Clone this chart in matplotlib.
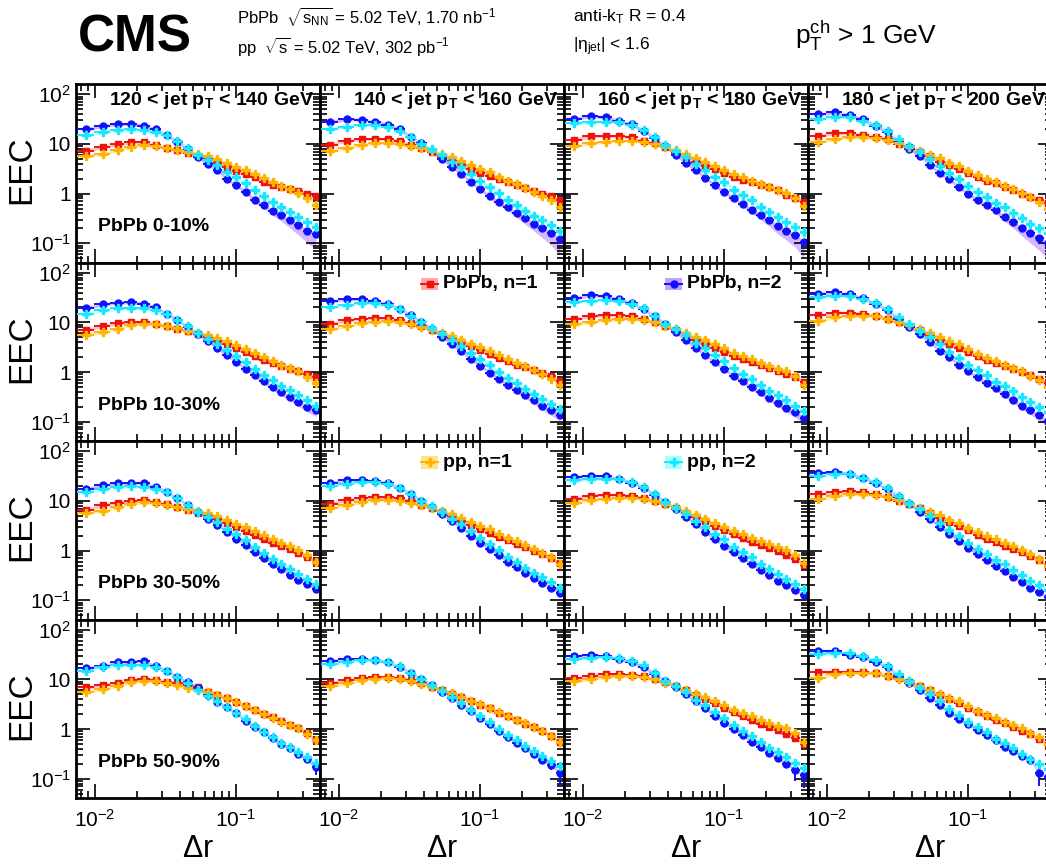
import numpy as np
import matplotlib
matplotlib.use("Agg")
import matplotlib.pyplot as plt
from matplotlib.patches import Rectangle

plt.rcParams['font.family'] = ['Liberation Sans', 'DejaVu Sans']
plt.rcParams['mathtext.fontset'] = 'custom'
plt.rcParams['mathtext.rm'] = 'Liberation Sans'
plt.rcParams['mathtext.it'] = 'Liberation Sans'
plt.rcParams['mathtext.bf'] = 'Liberation Sans:bold'

# bin centres (delta r)
dr = [0.0086, 0.0114, 0.0145, 0.018, 0.0223, 0.027, 0.0324, 0.0385, 0.0457, 0.0538, 0.0633, 0.074,
      0.0863, 0.101, 0.118, 0.136, 0.158, 0.182, 0.209, 0.242, 0.278, 0.321, 0.369]

jet_bins = ['120', '140', '160', '180', '200']
cent_bins = ['0-10%', '10-30%', '30-50%', '50-90%']

# pp, one list per jet pt bin
pp_n1 = [
    [5.7, 6.3, 7.5, 8.8, 9.4, 9.1, 8.4, 7.6, 6.8, 6.2, 5.6, 4.9, 4.2, 3.5, 2.98, 2.47, 2.02, 1.68, 1.42, 1.22, 1.04, 0.80, 0.59],
    [7.3, 8.3, 9.6, 10.3, 10.5, 10.2, 9.2, 8.2, 7.1, 6.2, 5.4, 4.5, 3.76, 3.2, 2.67, 2.18, 1.81, 1.53, 1.31, 1.09, 0.90, 0.74, 0.54],
    [9.1, 10.3, 11.1, 11.6, 11.6, 11.1, 10.0, 8.6, 7.4, 6.25, 5.1, 4.4, 3.6, 3.0, 2.47, 2.12, 1.81, 1.53, 1.33, 1.17, 1.04, 0.82, 0.55],
    [10.8, 12.6, 13.6, 13.6, 13.2, 12.0, 10.3, 8.8, 7.3, 6.0, 5.1, 4.2, 3.6, 2.88, 2.36, 1.93, 1.68, 1.42, 1.22, 1.04, 0.84, 0.68, 0.5],
]
pp_n2 = [
    [15.1, 17.6, 19.1, 19.7, 19.1, 17.5, 15.1, 11.4, 8.3, 6.0, 4.7, 3.76, 2.76, 2.12, 1.6, 1.17, 0.89, 0.68, 0.53, 0.43, 0.34, 0.27, 0.21],
    [20.0, 22.2, 24.4, 24.4, 22.2, 18.5, 13.6, 10.2, 7.9, 5.9, 4.4, 3.37, 2.47, 1.81, 1.37, 1.01, 0.76, 0.59, 0.45, 0.36, 0.29, 0.23, 0.18],
    [26.0, 27.2, 28.0, 27.2, 24.0, 19.1, 13.6, 9.5, 7.3, 5.5, 3.9, 3.0, 2.18, 1.68, 1.2, 0.93, 0.74, 0.54, 0.42, 0.34, 0.27, 0.21, 0.166],
    [31.8, 34.4, 34.4, 29.4, 24.4, 18.5, 12.6, 9.2, 6.8, 5.0, 3.6, 2.55, 1.93, 1.42, 1.09, 0.865, 0.64, 0.53, 0.41, 0.32, 0.25, 0.2, 0.16],
]

# PbPb n=1, [centrality][jet pt]
pbpb_n1 = [
    [[7.2, 8.8, 9.8, 10.8, 10.8, 9.5, 8.3, 7.5, 6.6, 5.8, 5.0, 4.2, 3.5, 2.9, 2.47, 2.12, 1.73, 1.5, 1.37, 1.22, 1.12, 1.0, 0.9],
     [9.6, 11.6, 12.6, 12.6, 12.6, 11.3, 9.6, 8.2, 6.8, 5.5, 4.5, 3.76, 3.2, 2.62, 2.3, 1.94, 1.68, 1.48, 1.32, 1.14, 1.0, 0.9, 0.74],
     [12.0, 14.4, 14.4, 14.4, 13.6, 11.6, 10.3, 8.5, 6.65, 5.5, 4.4, 3.6, 3.07, 2.55, 2.18, 1.87, 1.68, 1.48, 1.33, 1.17, 0.93, 0.80, 0.68],
     [14.6, 16.4, 16.4, 15.3, 13.6, 12.6, 10.0, 8.5, 7.0, 5.8, 4.4, 3.76, 3.12, 2.55, 2.18, 1.81, 1.62, 1.33, 1.17, 1.0, 0.865, 0.76, 0.65]],
    [[7.0, 8.6, 9.6, 10.3, 10.3, 9.4, 8.4, 7.5, 6.6, 5.8, 5.0, 4.3, 3.6, 3.0, 2.5, 2.1, 1.75, 1.5, 1.32, 1.16, 1.03, 0.92, 0.78],
     [9.4, 11.0, 12.0, 12.4, 12.2, 11.2, 9.7, 8.3, 7.0, 5.8, 4.8, 4.0, 3.3, 2.75, 2.3, 1.93, 1.65, 1.42, 1.24, 1.08, 0.95, 0.82, 0.66],
     [11.5, 13.5, 14.0, 14.0, 13.3, 11.8, 10.2, 8.5, 6.9, 5.6, 4.5, 3.7, 3.05, 2.5, 2.12, 1.8, 1.58, 1.38, 1.22, 1.07, 0.92, 0.78, 0.62],
     [14.0, 15.8, 15.8, 15.0, 13.6, 12.0, 10.0, 8.4, 6.9, 5.6, 4.5, 3.7, 3.0, 2.5, 2.1, 1.78, 1.55, 1.32, 1.15, 1.0, 0.86, 0.74, 0.6]],
    [[6.6, 8.2, 9.3, 10.2, 10.4, 9.6, 8.6, 7.6, 6.7, 5.8, 5.0, 4.3, 3.6, 3.0, 2.5, 2.08, 1.72, 1.45, 1.24, 1.06, 0.9, 0.76, 0.6],
     [8.8, 10.4, 11.5, 12.0, 12.0, 11.2, 9.8, 8.4, 7.1, 5.9, 4.9, 4.0, 3.3, 2.75, 2.3, 1.9, 1.6, 1.36, 1.16, 1.0, 0.85, 0.72, 0.55],
     [11.0, 12.8, 13.4, 13.4, 12.8, 11.6, 10.1, 8.6, 7.1, 5.8, 4.7, 3.9, 3.15, 2.6, 2.15, 1.8, 1.52, 1.3, 1.12, 0.96, 0.82, 0.68, 0.52],
     [13.5, 15.2, 15.5, 14.8, 13.6, 12.0, 10.2, 8.6, 7.1, 5.8, 4.6, 3.8, 3.1, 2.55, 2.1, 1.75, 1.48, 1.25, 1.07, 0.92, 0.78, 0.65, 0.5]],
    [[6.9, 7.7, 8.6, 9.7, 10.2, 9.7, 9.0, 8.3, 7.6, 6.9, 5.6, 4.9, 4.2, 3.55, 2.9, 2.4, 2.0, 1.72, 1.47, 1.2, 1.03, 0.82, 0.6],
     [8.5, 9.6, 10.6, 11.2, 11.3, 10.8, 9.6, 8.4, 7.2, 6.1, 5.2, 4.4, 3.7, 3.1, 2.6, 2.15, 1.8, 1.5, 1.28, 1.08, 0.9, 0.74, 0.55],
     [10.5, 12.0, 12.6, 12.8, 12.4, 11.5, 10.1, 8.7, 7.3, 6.0, 4.9, 4.0, 3.3, 2.7, 2.2, 1.82, 1.52, 1.28, 1.1, 0.94, 0.8, 0.67, 0.5],
     [14.3, 14.3, 14.3, 14.3, 13.3, 11.7, 10.5, 9.0, 7.4, 6.0, 4.9, 4.0, 3.3, 2.7, 2.25, 1.85, 1.55, 1.3, 1.1, 0.93, 0.78, 0.64, 0.48]],
]

# PbPb n=2, [centrality][jet pt]
pbpb_n2 = [
    [[19.7, 23.3, 25.2, 25.5, 23.3, 19.7, 14.9, 11.0, 7.9, 5.5, 3.9, 3.0, 2.0, 1.48, 1.09, 0.76, 0.59, 0.45, 0.37, 0.29, 0.23, 0.18, 0.155],
     [28.0, 31.8, 31.0, 28.0, 24.4, 20.0, 14.0, 10.3, 7.3, 5.0, 3.5, 2.5, 1.72, 1.24, 0.88, 0.68, 0.53, 0.41, 0.32, 0.25, 0.20, 0.16, 0.12],
     [31.8, 37.0, 34.4, 29.4, 24.8, 18.5, 13.0, 9.1, 6.0, 4.2, 3.0, 2.08, 1.48, 1.09, 0.80, 0.62, 0.47, 0.37, 0.29, 0.22, 0.18, 0.146, 0.104],
     [40.0, 43.0, 38.3, 31.8, 23.3, 17.1, 10.8, 7.9, 5.8, 3.8, 2.55, 1.93, 1.37, 1.0, 0.74, 0.59, 0.47, 0.34, 0.27, 0.20, 0.158, 0.126, 0.1]],
    [[19.5, 23.0, 25.0, 25.6, 24.0, 20.0, 15.0, 11.2, 8.0, 5.8, 4.2, 3.1, 2.2, 1.6, 1.18, 0.86, 0.65, 0.5, 0.39, 0.31, 0.25, 0.2, 0.17],
     [26.5, 29.5, 29.5, 27.0, 23.5, 19.0, 14.0, 10.2, 7.3, 5.1, 3.6, 2.6, 1.85, 1.35, 0.98, 0.74, 0.56, 0.43, 0.34, 0.27, 0.21, 0.17, 0.14],
     [31.0, 35.0, 34.0, 29.5, 24.5, 18.5, 13.2, 9.3, 6.3, 4.4, 3.1, 2.2, 1.58, 1.15, 0.85, 0.65, 0.5, 0.39, 0.3, 0.24, 0.19, 0.155, 0.12],
     [38.0, 40.5, 37.0, 31.0, 24.0, 17.5, 11.5, 8.2, 5.9, 4.0, 2.7, 2.0, 1.42, 1.04, 0.78, 0.6, 0.47, 0.36, 0.28, 0.21, 0.17, 0.135, 0.105]],
    [[17.5, 20.5, 22.5, 23.0, 22.5, 19.5, 15.0, 11.3, 8.2, 6.0, 4.4, 3.3, 2.4, 1.75, 1.28, 0.94, 0.71, 0.54, 0.42, 0.33, 0.26, 0.21, 0.17],
     [23.5, 26.0, 26.5, 25.5, 22.5, 18.5, 13.8, 10.2, 7.5, 5.4, 3.9, 2.8, 2.0, 1.45, 1.06, 0.8, 0.6, 0.46, 0.36, 0.28, 0.22, 0.18, 0.14],
     [30.0, 32.5, 31.5, 28.0, 23.5, 18.5, 13.4, 9.6, 6.8, 4.8, 3.4, 2.4, 1.7, 1.25, 0.92, 0.7, 0.53, 0.41, 0.32, 0.25, 0.2, 0.16, 0.125],
     [37.0, 39.0, 35.0, 29.5, 23.0, 17.0, 11.8, 8.5, 6.1, 4.3, 3.0, 2.15, 1.55, 1.13, 0.85, 0.65, 0.5, 0.39, 0.3, 0.23, 0.18, 0.145, 0.115]],
    [[16.7, 18.9, 22.0, 22.7, 23.4, 18.6, 15.0, 11.3, 9.0, 6.6, 4.9, 3.55, 2.73, 2.07, 1.47, 1.11, 0.88, 0.65, 0.51, 0.41, 0.31, 0.245, 0.17],
     [24.0, 25.5, 26.0, 24.5, 22.0, 18.0, 13.6, 10.2, 7.7, 5.7, 4.2, 3.1, 2.3, 1.7, 1.25, 0.93, 0.7, 0.53, 0.41, 0.31, 0.24, 0.19, 0.13],
     [30.0, 30.5, 29.0, 26.0, 22.0, 17.5, 13.0, 9.5, 7.0, 5.0, 3.6, 2.6, 1.85, 1.35, 1.0, 0.75, 0.56, 0.43, 0.33, 0.26, 0.2, 0.15, 0.12],
     [38.0, 38.0, 31.0, 28.6, 22.7, 18.0, 11.5, 8.5, 6.2, 4.3, 3.0, 2.14, 1.6, 1.25, 0.98, 0.76, 0.6, 0.44, 0.36, 0.29, 0.24, 0.13, 0.11]],
]

# relative stat. error of PbPb n=2 in 50-90% (the rest is small)
n2_stat_50_90 = [
    [0.05, 0.04, 0.04, 0.04, 0.1, 0.04, 0.03, 0.03, 0.03, 0.03, 0.03, 0.03, 0.03, 0.03, 0.03, 0.04, 0.04, 0.05, 0.05, 0.06, 0.08, 0.1, 0.3],
    [0.05, 0.04, 0.04, 0.04, 0.04, 0.04, 0.03, 0.03, 0.03, 0.03, 0.03, 0.03, 0.03, 0.03, 0.03, 0.04, 0.04, 0.05, 0.05, 0.06, 0.08, 0.2, 0.45],
    [0.08, 0.05, 0.04, 0.04, 0.04, 0.04, 0.03, 0.03, 0.03, 0.03, 0.03, 0.03, 0.03, 0.03, 0.04, 0.04, 0.05, 0.05, 0.06, 0.07, 0.1, 0.4, 0.45],
    [0.1, 0.08, 0.06, 0.05, 0.05, 0.05, 0.04, 0.04, 0.04, 0.04, 0.04, 0.05, 0.05, 0.06, 0.06, 0.07, 0.08, 0.09, 0.1, 0.12, 0.15, 0.45, 0.3],
]
# lower edge of the n=2 PbPb systematic band (relative), per centrality
n2_sys_low = [
    [0.08, 0.08, 0.08, 0.08, 0.08, 0.08, 0.08, 0.08, 0.08, 0.08, 0.08, 0.08, 0.08, 0.09, 0.1, 0.12, 0.15, 0.19, 0.24, 0.3, 0.36, 0.43, 0.52],
    [0.07, 0.07, 0.07, 0.07, 0.07, 0.07, 0.07, 0.07, 0.07, 0.07, 0.07, 0.07, 0.07, 0.07, 0.08, 0.09, 0.1, 0.11, 0.13, 0.15, 0.18, 0.21, 0.25],
    [0.06] * 23,
    [0.06] * 23,
]

red = '#f01010'
blue = '#1010ff'
orange = '#ffb400'
cyan = '#18e8ff'

x = np.array(dr)
mids = np.sqrt(x[1:] * x[:-1])
edges = np.concatenate([[x[0] ** 2 / mids[0]], mids, [x[-1] ** 2 / mids[-1]]])
xerr = [x - edges[:-1], edges[1:] - x]

W, H = 1046, 866
fig = plt.figure(figsize=(W / 100, H / 100), dpi=100)

col_left = [76, 320, 564, 808]
row_top = [84, 262.5, 441, 619.5]
pw, ph = 244, 178.5


def draw(ax, y, color, band, marker, ms, err_rel=0.03, lo_rel=None, hi_rel=0.07, alpha=0.45):
    y = np.array(y)
    lo = np.array(lo_rel) if lo_rel is not None else np.full(len(y), hi_rel)
    ax.fill_between(x, y * (1 - lo), y * (1 + hi_rel), color=band, alpha=alpha, lw=0, zorder=1)
    ax.errorbar(x, y, xerr=xerr, yerr=y * np.array(err_rel), fmt=marker, color=color, ms=ms,
                mec=color, lw=1.4, elinewidth=1.4, capsize=0, zorder=3)


axes = []
for r in range(4):
    for c in range(4):
        ax = fig.add_axes([col_left[c] / W, 1 - (row_top[r] + ph) / H, pw / W, ph / H])
        ax.set_xscale('log')
        ax.set_yscale('log')

        draw(ax, pbpb_n1[r][c], red, '#ff7070', 's', 4.8)
        if r == 3:
            draw(ax, pbpb_n2[r][c], blue, '#a060ff', 'o', 5, err_rel=n2_stat_50_90[c])
        else:
            draw(ax, pbpb_n2[r][c], blue, '#a060ff', 'o', 5, lo_rel=n2_sys_low[r])
        draw(ax, pp_n1[c], orange, '#ffd040', 'P', 6.3)
        draw(ax, pp_n2[c], cyan, '#70ffff', 'P', 6.3)

        ax.set_xlim(0.00735, 0.395)
        ax.set_ylim(0.041, 161)
        ax.set_yticks([0.1, 1, 10, 100])
        ax.set_xticks([0.01, 0.1])
        ax.tick_params(which='both', direction='in', top=True, right=True, width=1.2)
        ax.tick_params(which='major', length=10)
        ax.tick_params(which='minor', length=5)
        if c == 0:
            ax.set_yticklabels(['$10^{-1}$', '1', '10', '$10^{2}$'], fontsize=15)
        else:
            ax.set_yticklabels([])
        if r == 3:
            ax.set_xticklabels(['$10^{-2}$', '$10^{-1}$'], fontsize=15)
            ax.tick_params(axis='x', pad=8)
        else:
            ax.set_xticklabels([])
        ax.yaxis.set_minor_formatter(matplotlib.ticker.NullFormatter())
        ax.xaxis.set_minor_formatter(matplotlib.ticker.NullFormatter())
        for s in ax.spines.values():
            s.set_linewidth(2)

        if r == 0:
            ax.text(0.975, 0.91, jet_bins[c] + r' < jet $\mathbf{p}_{\mathbf{T}}$ < ' + jet_bins[c + 1] + ' GeV',
                    transform=ax.transAxes, ha='right', va='center', fontsize=14, fontweight='bold')
        if c == 0:
            ax.text(0.09, 0.2, 'PbPb ' + cent_bins[r], transform=ax.transAxes, ha='left', va='center',
                    fontsize=14, fontweight='bold')
        axes.append(ax)


def legend_entry(ax, label, color, band, marker, ms):
    ax.add_patch(Rectangle((0.413, 0.845), 0.072, 0.07, transform=ax.transAxes, color=band,
                           alpha=0.6, lw=0, zorder=5))
    ax.plot([0.413, 0.485], [0.88, 0.88], transform=ax.transAxes, color=color, lw=1.4, zorder=6)
    ax.plot([0.449], [0.88], transform=ax.transAxes, marker=marker, color=color, ms=ms, zorder=7)
    ax.text(0.505, 0.88, label, transform=ax.transAxes, ha='left', va='center', fontsize=14,
            fontweight='bold')


legend_entry(axes[5], 'PbPb, n=1', red, '#ff7070', 's', 4.8)
legend_entry(axes[6], 'PbPb, n=2', blue, '#a060ff', 'o', 5)
legend_entry(axes[9], 'pp, n=1', orange, '#ffd040', 'P', 6.3)
legend_entry(axes[10], 'pp, n=2', cyan, '#70ffff', 'P', 6.3)

for r in range(4):
    fig.text(22 / W, 1 - (row_top[r] + 86) / H, 'EEC', rotation=90, ha='center', va='center', fontsize=24)
for c in range(4):
    fig.text((col_left[c] + 122) / W, 1 - 849 / H, r'$\Delta$r', ha='center', va='center', fontsize=22)

fig.text(78 / W, 1 - 52 / H, 'CMS', fontsize=37, fontweight='bold', ha='left', va='baseline')
fig.text(237 / W, 1 - 17 / H, r'PbPb  $\sqrt{\mathrm{s}_{\mathrm{NN}}}$ = 5.02 TeV, 1.70 nb$^{-1}$',
         fontsize=12, ha='left', va='center')
fig.text(237 / W, 1 - 47 / H, r'pp  $\sqrt{\mathrm{s}}$ = 5.02 TeV, 302 pb$^{-1}$', fontsize=12,
         ha='left', va='center')
fig.text(573 / W, 1 - 17 / H, r'anti-k$_{\mathrm{T}}$ R = 0.4', fontsize=12.5, ha='left', va='center')
fig.text(573 / W, 1 - 47 / H, r'|$\eta_{\mathrm{jet}}$| < 1.6', fontsize=12.5, ha='left', va='center')
fig.text(795 / W, 1 - 36 / H, r'p$_{\mathrm{T}}^{\mathrm{ch}}$ > 1 GeV', fontsize=19, ha='left', va='center')

fig.savefig('out.png', dpi=100)
